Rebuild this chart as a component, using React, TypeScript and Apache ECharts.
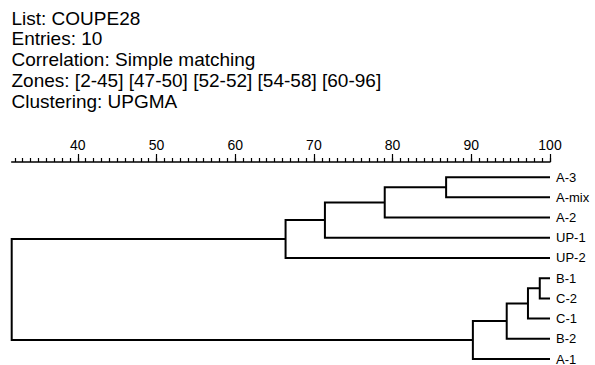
import React, { useEffect, useRef } from 'react';
import * as echarts from 'echarts';

const headerLines = [
  'List: COUPE28',
  'Entries: 10',
  'Correlation: Simple matching',
  'Zones: [2-45] [47-50] [52-52] [54-58] [60-96]',
  'Clustering: UPGMA',
];

// Leaves, top to bottom
const leaves = ['A-3', 'A-mix', 'A-2', 'UP-1', 'UP-2', 'B-1', 'C-2', 'C-1', 'B-2', 'A-1'];

// Merges (node ids: 0-9 leaves, 10+ internal nodes in merge order)
const mergeLeft = [0, 10, 11, 12, 5, 14, 15, 16, 13];
const mergeRight = [1, 2, 3, 4, 6, 7, 8, 9, 17];
const mergeSimilarity = [86.8, 79.0, 71.4, 66.4, 98.7, 97.2, 94.5, 90.2, 31.6];

const tickLabels = [40, 50, 60, 70, 80, 90, 100];
const axisMin = 31.6;
const axisMax = 100;

const FONT = '"Liberation Sans", Arial, sans-serif';

export default function App() {
  const ref = useRef<HTMLDivElement>(null);

  useEffect(() => {
    const chart = echarts.init(ref.current!, null, { renderer: 'svg' });

    const nodeY: number[] = leaves.map((_, i) => i);
    const nodeH: number[] = leaves.map(() => axisMax);
    const segs: number[][] = [];
    mergeLeft.forEach((l, k) => {
      const r = mergeRight[k];
      const h = mergeSimilarity[k];
      segs.push([h, nodeY[l], nodeY[r], nodeH[l], nodeH[r]]);
      nodeY.push((nodeY[l] + nodeY[r]) / 2);
      nodeH.push(h);
    });

    const minorTicks: number[] = [];
    for (let v = Math.ceil(axisMin); v <= axisMax; v++) minorTicks.push(v);

    chart.setOption({
      animation: false,
      backgroundColor: '#fff',
      textStyle: { fontFamily: FONT, color: '#000' },
      grid: { left: 11.7, right: 45, top: 162, bottom: 6, containLabel: false, outerBoundsMode: 'none' },
      graphic: headerLines.map((t, i) => ({
        type: 'text',
        x: 11.5,
        y: 18 + i * 20.75,
        style: {
          text: t,
          fontSize: 19,
          fontFamily: FONT,
          fill: '#000',
          verticalAlign: 'middle',
          align: 'left',
        },
      })),
      xAxis: [
        {
          type: 'value',
          position: 'top',
          min: axisMin,
          max: axisMax,
          axisLine: { show: true, onZero: false, lineStyle: { color: '#000', width: 1.5 } },
          axisTick: { show: true, customValues: minorTicks, length: 4, lineStyle: { color: '#000', width: 1.2 } },
          axisLabel: { show: false },
          splitLine: { show: false },
        },
        {
          type: 'value',
          position: 'top',
          min: axisMin,
          max: axisMax,
          axisLine: { show: false, onZero: false },
          axisTick: { show: true, customValues: tickLabels, length: 8, lineStyle: { color: '#000', width: 1.2 } },
          axisLabel: {
            show: true,
            customValues: tickLabels,
            fontSize: 14,
            fontFamily: FONT,
            color: '#000',
            margin: 10,
            formatter: (v: number) => String(v),
          },
          splitLine: { show: false },
        },
      ],
      yAxis: {
        type: 'value',
        position: 'right',
        inverse: true,
        min: -0.75,
        max: 9,
        axisLine: { show: false, onZero: false },
        axisTick: { show: false },
        splitLine: { show: false },
        axisLabel: {
          show: true,
          customValues: leaves.map((_, i) => i),
          formatter: (v: number) => leaves[Math.round(v)] ?? '',
          fontSize: 13,
          lineHeight: 12,
          fontFamily: FONT,
          color: '#000',
          margin: 6,
        },
      },
      series: [
        {
          type: 'custom',
          xAxisIndex: 0,
          yAxisIndex: 0,
          clip: false,
          silent: true,
          encode: { x: [0, 3, 4], y: [1, 2] },
          data: segs,
          renderItem: (_params: any, api: any) => {
            const h = api.value(0);
            const y1 = api.value(1);
            const y2 = api.value(2);
            const h1 = api.value(3);
            const h2 = api.value(4);
            const pts = [api.coord([h1, y1]), api.coord([h, y1]), api.coord([h, y2]), api.coord([h2, y2])];
            return {
              type: 'polyline',
              shape: { points: pts },
              style: { stroke: '#000', lineWidth: 2, fill: null },
            };
          },
        },
      ],
    });

    return () => chart.dispose();
  }, []);

  return <div ref={ref} style={{ position: 'absolute', left: 0, top: 0, width: 595, height: 365 }} />;
}
